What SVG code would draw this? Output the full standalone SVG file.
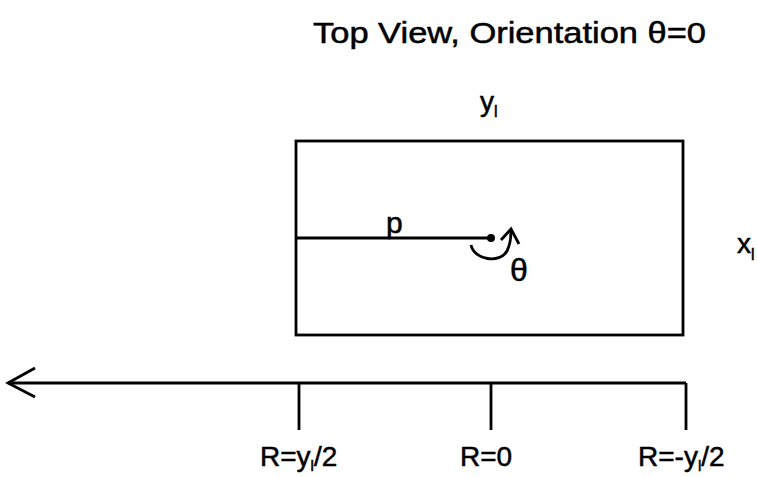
<svg xmlns="http://www.w3.org/2000/svg" width="757" height="477" viewBox="0 0 757 477">
<style>
.t{font-family:"Liberation Sans",Arial,sans-serif;fill:#000;stroke:#000;stroke-width:0.5}
.s{stroke:#000;stroke-width:2.8;fill:none}
</style>
<rect width="757" height="477" fill="#fff"/>
<text class="t" x="313" y="43" font-size="29" textLength="393" lengthAdjust="spacingAndGlyphs">Top View, Orientation θ=0</text>
<g id="body">
<rect class="s" x="296" y="141" width="387" height="194"/>
<text class="t" x="480" y="111" font-size="28">y<tspan font-size="16" dy="6">l</tspan></text>
<text class="t" x="737" y="253" font-size="28">x<tspan font-size="16" dy="7">l</tspan></text>
</g>
<g id="p">
<line class="s" x1="296" y1="238" x2="491" y2="238"/>
<circle cx="491" cy="238" r="4" fill="#000"/>
<text class="t" x="386" y="233" font-size="30">p</text>
</g>
<g id="theta">
<path class="s" d="M471,245 C474,260 500,264 507,251 C510,245 511,238 511,231"/>
<polyline class="s" points="501,240 511,229 519,244"/>
<text class="t" x="510" y="281" font-size="32">θ</text>
</g>
<g id="connectors">
<line class="s" x1="8" y1="383" x2="686" y2="383"/>
<polyline class="s" points="35,368 8,383 35,397"/>
<line class="s" x1="299" y1="383" x2="299" y2="430"/>
<line class="s" x1="491" y1="383" x2="491" y2="430"/>
<line class="s" x1="686" y1="383" x2="686" y2="430"/>
</g>
<g id="labels">
<text class="t" x="260" y="466" font-size="28">R=y<tspan font-size="15" dy="5">l</tspan><tspan dy="-5">/2</tspan></text>
<text class="t" x="486" y="466" font-size="28" text-anchor="middle">R=0</text>
<text class="t" x="638" y="466" font-size="28">R=-y<tspan font-size="15" dy="5">l</tspan><tspan dy="-5">/2</tspan></text>
</g>
</svg>
